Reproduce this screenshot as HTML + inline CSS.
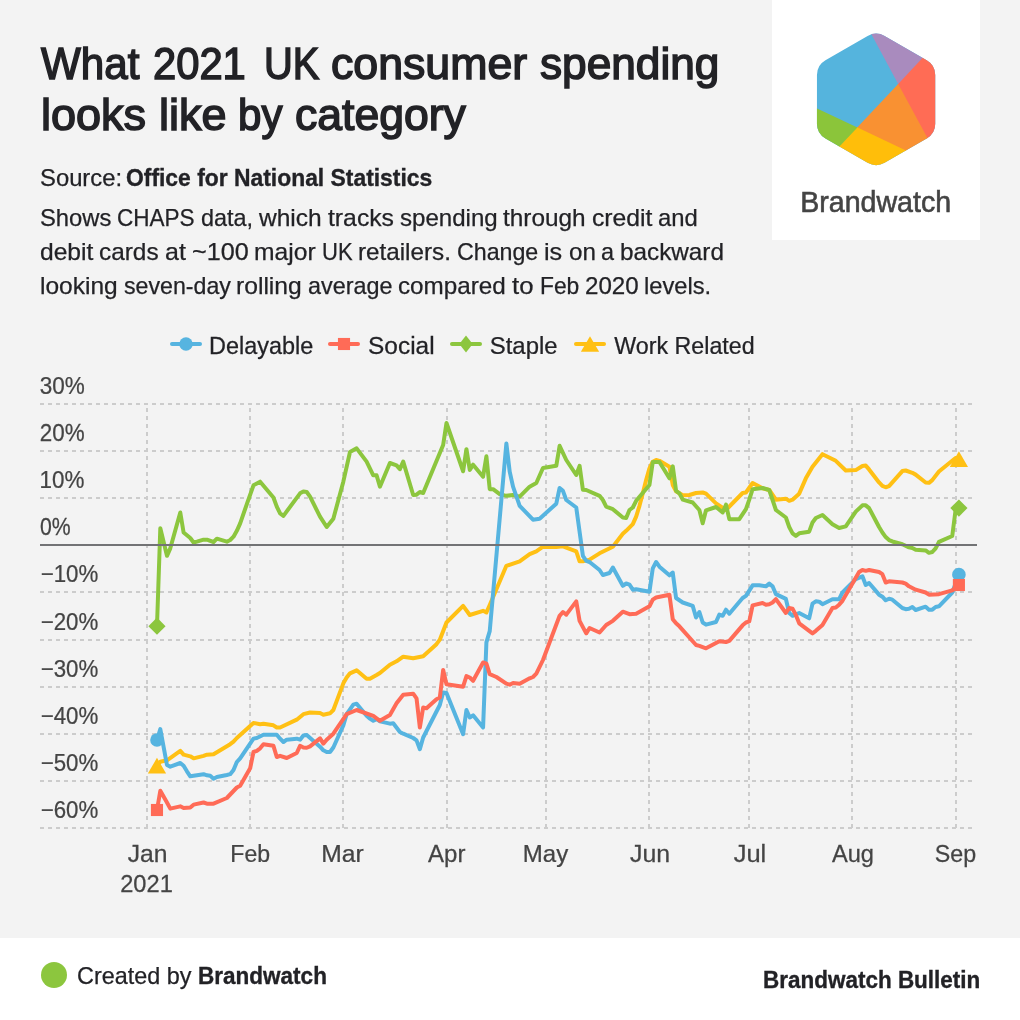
<!DOCTYPE html>
<html lang="en"><head><meta charset="utf-8"><title>What 2021 UK consumer spending looks like by category</title>
<style>
*{box-sizing:border-box;margin:0;padding:0}
html,body{width:1020px;height:1020px;overflow:hidden;background:#f3f3f3}
body{position:relative;font-family:"Liberation Sans",sans-serif;color:#222226;-webkit-font-smoothing:antialiased}
.abs{position:absolute;white-space:pre;line-height:1}
header h1{font-weight:400;font-size:44px;-webkit-text-stroke:1.5px #222226}
header h1 span,header p span{position:absolute;left:41px;white-space:pre;line-height:1;display:block}
header p{font-size:24px;font-weight:400;-webkit-text-stroke:0.25px #222226}
footer{-webkit-text-stroke:0.25px #222226}
b,#f2{font-weight:700;-webkit-text-stroke:0.35px #222226}
.logo{position:absolute;left:772px;top:0;width:208px;height:240px;background:#fff}
.legend span{font-size:24px;color:#222226}
.chart{position:absolute;left:0;top:0;width:1020px;height:940px;overflow:visible}
.chart text{font-family:"Liberation Sans",sans-serif;font-size:24px;fill:#444444;stroke:#444444;stroke-width:0.25px}
footer{position:absolute;left:0;top:938px;width:1020px;height:82px;background:#fff}
footer .dot{position:absolute;left:41px;top:24px;width:26px;height:26px;border-radius:50%;background:#8cc63e}
</style></head><body>
<header>
<h1><span id="t1w1" style="left:41.48px;top:42.35px;letter-spacing:0.000px;transform:scaleX(0.9581);transform-origin:0 50%">What</span> <span id="t1w2" style="left:152.88px;top:42.35px;letter-spacing:0.000px;transform:scaleX(0.9478);transform-origin:0 50%">2021</span> <span id="t1w3" style="left:263.75px;top:42.35px;letter-spacing:0.000px;transform:scaleX(0.9070);transform-origin:0 50%">UK</span> <span id="t1w4" style="left:330.55px;top:42.35px;letter-spacing:0.000px;transform:scaleX(1.0152);transform-origin:0 50%">consumer</span> <span id="t1w5" style="left:539.80px;top:42.35px;letter-spacing:0.000px;transform:scaleX(1.0045);transform-origin:0 50%">spending</span> <span id="t2w1" style="left:41.00px;top:92.55px;letter-spacing:0.000px;transform:scaleX(1.0232);transform-origin:0 50%">looks</span> <span id="t2w2" style="left:159.34px;top:92.55px;letter-spacing:0.000px;transform:scaleX(1.0236);transform-origin:0 50%">like</span> <span id="t2w3" style="left:237.79px;top:92.55px;letter-spacing:0.000px;transform:scaleX(0.9560);transform-origin:0 50%">by</span> <span id="t2w4" style="left:294.84px;top:92.55px;letter-spacing:0.000px;transform:scaleX(1.0126);transform-origin:0 50%">category</span></h1>
<p><span id="s1" style="margin-left:-1.32px;top:165.88px"><span id="s1a" style="position:static;display:inline-block;transform:scaleX(0.9922);transform-origin:0 50%">Source: </span><b id="s1b" style="display:inline-block;margin-left:-2.62px;transform:scaleX(0.9528);transform-origin:0 50%">Office for National Statistics</b></span>
<span id="d1" style="left:0;top:205.68px;width:760px;height:24px"><span style="left:40.00px;top:0;transform:scaleX(0.9914);transform-origin:0 50%">Shows</span> <span style="left:117.36px;top:0;transform:scaleX(0.9388);transform-origin:0 50%">CHAPS</span> <span style="left:200.91px;top:0;transform:scaleX(0.9758);transform-origin:0 50%">data,</span> <span style="left:258.94px;top:0;transform:scaleX(1.0226);transform-origin:0 50%">which</span> <span style="left:327.62px;top:0;transform:scaleX(1.0310);transform-origin:0 50%">tracks</span> <span style="left:399.54px;top:0;transform:scaleX(1.0027);transform-origin:0 50%">spending</span> <span style="left:503.16px;top:0;transform:scaleX(1.0150);transform-origin:0 50%">through</span> <span style="left:591.72px;top:0;transform:scaleX(1.0307);transform-origin:0 50%">credit</span> <span style="left:658.14px;top:0;transform:scaleX(0.9928);transform-origin:0 50%">and</span></span>
<span id="d2" style="left:0;top:239.68px;width:760px;height:24px"><span style="left:40.00px;top:0;transform:scaleX(1.0250);transform-origin:0 50%">debit</span> <span style="left:99.29px;top:0;transform:scaleX(1.0158);transform-origin:0 50%">cards</span> <span style="left:164.84px;top:0;transform:scaleX(1.0433);transform-origin:0 50%">at</span> <span style="left:191.66px;top:0;transform:scaleX(1.0492);transform-origin:0 50%">~100</span> <span style="left:254.33px;top:0;transform:scaleX(1.0263);transform-origin:0 50%">major</span> <span style="left:321.86px;top:0;transform:scaleX(0.9175);transform-origin:0 50%">UK</span> <span style="left:358.39px;top:0;transform:scaleX(1.0090);transform-origin:0 50%">retailers.</span> <span style="left:457.19px;top:0;transform:scaleX(0.9666);transform-origin:0 50%">Change</span> <span style="left:544.40px;top:0;transform:scaleX(1.0488);transform-origin:0 50%">is</span> <span style="left:568.52px;top:0;transform:scaleX(1.0079);transform-origin:0 50%">on</span> <span style="left:601.38px;top:0;transform:scaleX(0.9767);transform-origin:0 50%">a</span> <span style="left:620.36px;top:0;transform:scaleX(1.0119);transform-origin:0 50%">backward</span></span>
<span id="d3" style="left:0;top:273.68px;width:760px;height:24px"><span style="left:40.00px;top:0;transform:scaleX(1.0207);transform-origin:0 50%">looking</span> <span style="left:123.56px;top:0;transform:scaleX(0.9652);transform-origin:0 50%">seven-day</span> <span style="left:236.36px;top:0;transform:scaleX(1.0271);transform-origin:0 50%">rolling</span> <span style="left:308.05px;top:0;transform:scaleX(0.9739);transform-origin:0 50%">average</span> <span style="left:398.44px;top:0;transform:scaleX(1.0101);transform-origin:0 50%">compared</span> <span style="left:512.17px;top:0;transform:scaleX(1.0719);transform-origin:0 50%">to</span> <span style="left:539.55px;top:0;transform:scaleX(0.9505);transform-origin:0 50%">Feb</span> <span style="left:584.78px;top:0;transform:scaleX(1.0063);transform-origin:0 50%">2020</span> <span style="left:644.43px;top:0;transform:scaleX(0.9873);transform-origin:0 50%">levels.</span></span></p>
</header>
<div class="logo">
<svg width="208" height="240" viewBox="772 0 208 240">
<defs><clipPath id="hex"><path d="M867.60,36.01 A17.0,17.0 0 0 1 884.60,36.01 L926.75,60.34 A17.0,17.0 0 0 1 935.25,75.06 L935.25,123.74 A17.0,17.0 0 0 1 926.75,138.46 L884.60,162.79 A17.0,17.0 0 0 1 867.60,162.79 L825.45,138.46 A17.0,17.0 0 0 1 816.95,123.74 L816.95,75.06 A17.0,17.0 0 0 1 825.45,60.34 Z"/></clipPath></defs>
<g clip-path="url(#hex)">
<rect x="800" y="20" width="150" height="160" fill="#55b4dd"/>
<polygon points="857.4,8.3 898.7,84.9 942.7,37.6 960.0,10.0" fill="#a98bbe"/>
<polygon points="942.3,36.8 897.5,84.7 940.8,164.5 970.0,160.0 970.0,40.0" fill="#ff6c55"/>
<polygon points="898.2,84.0 941.5,163.8 940.0,175.0 931.5,163.7 856.7,128.1" fill="#f99132"/>
<polygon points="856.5,127.0 932.2,163.0 900.0,190.0 840.0,190.0 818.2,167.6" fill="#ffbe0a"/>
<polygon points="857.4,127.4 819.1,168.0 800.0,170.0 790.0,100.0 790.1,95.7" fill="#8bc53a"/>
</g>
<text id="wm" transform="translate(800.2,212.1) scale(0.953,1)" style="font-family:'Liberation Sans',sans-serif;font-size:30px;fill:#444;stroke:#444;stroke-width:0.6px">Brandwatch</text>
</svg>
</div>

<svg class="chart" width="1020" height="940" viewBox="0 0 1020 940">
<g class="legend">
<path d="M172,344 h28" stroke="#56b4e0" stroke-width="4" stroke-linecap="round" fill="none"/>
<circle cx="186.00" cy="344.00" r="6.70" fill="#56b4e0"/>
<text id="lg_blue" transform="translate(208.98,354.4) scale(0.9771,1)" style="fill:#222226;stroke:#222226">Delayable</text>
<path d="M330,344 h28" stroke="#ff6b57" stroke-width="4" stroke-linecap="round" fill="none"/>
<rect x="337.95" y="337.95" width="12.10" height="12.10" fill="#ff6b57"/>
<text id="lg_red" transform="translate(368.07,354.4) scale(1.0180,1)" style="fill:#222226;stroke:#222226">Social</text>
<path d="M452,344 h28" stroke="#8cc63e" stroke-width="4" stroke-linecap="round" fill="none"/>
<path d="M459.30,344.00 L466.00,335.40 L472.70,344.00 L466.00,352.60Z" fill="#8cc63e"/>
<text id="lg_green" transform="translate(489.81,354.4) scale(0.9954,1)" style="fill:#222226;stroke:#222226">Staple</text>
<path d="M576,344 h28" stroke="#ffc014" stroke-width="4" stroke-linecap="round" fill="none"/>
<path d="M590.00,336.15 L599.15,351.85 L580.85,351.85Z" fill="#ffc014"/>
<text id="lg_yellow" transform="translate(614.34,354.4) scale(0.9687,1)" style="fill:#222226;stroke:#222226">Work Related</text>
</g>
<g fill="none" stroke="#cccccc" stroke-width="2" stroke-dasharray="4 4">
<path d="M40,404 H976"/>
<path d="M40,451 H976"/>
<path d="M40,498 H976"/>
<path d="M40,592 H976"/>
<path d="M40,640 H976"/>
<path d="M40,687 H976"/>
<path d="M40,734 H976"/>
<path d="M40,781 H976"/>
<path d="M40,828 H976"/>
<path d="M147,828 V404"/>
<path d="M250,828 V404"/>
<path d="M343,828 V404"/>
<path d="M447,828 V404"/>
<path d="M546,828 V404"/>
<path d="M649,828 V404"/>
<path d="M749,828 V404"/>
<path d="M852,828 V404"/>
<path d="M956,828 V404"/>
</g>
<g>
<text id="yl0" transform="translate(39.66,394) scale(0.9376,1)">30%</text>
<text id="yl1" transform="translate(39.82,441) scale(0.9330,1)">20%</text>
<text id="yl2" transform="translate(39.60,488) scale(0.9339,1)">10%</text>
<text id="yl3" transform="translate(39.99,535) scale(0.8843,1)">0%</text>
<text id="yl4" transform="translate(40.65,582) scale(0.9283,1)">−10%</text>
<text id="yl5" transform="translate(40.65,630) scale(0.9283,1)">−20%</text>
<text id="yl6" transform="translate(40.65,677) scale(0.9283,1)">−30%</text>
<text id="yl7" transform="translate(40.65,724) scale(0.9283,1)">−40%</text>
<text id="yl8" transform="translate(40.65,771) scale(0.9283,1)">−50%</text>
<text id="yl9" transform="translate(40.65,818) scale(0.9283,1)">−60%</text>
<text id="xl0" transform="translate(127.68,862.3) scale(1.0282,1)">Jan</text>
<text id="xl1" transform="translate(230.33,862.3) scale(0.9612,1)">Feb</text>
<text id="xl2" transform="translate(321.28,862.3) scale(1.0288,1)">Mar</text>
<text id="xl3" transform="translate(428.06,862.3) scale(1.0007,1)">Apr</text>
<text id="xl4" transform="translate(522.77,862.3) scale(1.0015,1)">May</text>
<text id="xl5" transform="translate(630.11,862.3) scale(1.0362,1)">Jun</text>
<text id="xl6" transform="translate(733.66,862.3) scale(1.0639,1)">Jul</text>
<text id="xl7" transform="translate(831.93,862.3) scale(0.9850,1)">Aug</text>
<text id="xl8" transform="translate(934.70,862.3) scale(0.9692,1)">Sep</text>
<text id="xl_year" transform="translate(120.21,891.9) scale(0.9852,1)">2021</text>
</g>
<path d="M156.98,765.7 L160.31,761.67 L166.97,760.33 L180.28,750.83 L183.6,754.67 L190.26,756.33 L193.59,758.33 L203.57,755.83 L206.9,754.67 L213.55,754.17 L230.19,744.17 L233.51,741.67 L236.84,738 L240.17,735 L253.48,723 L260.13,724.17 L263.46,723.67 L273.44,725.33 L276.77,727.5 L280.1,727.5 L296.74,719.67 L303.39,714.17 L310.05,712.5 L320.03,713 L323.36,714.67 L330.01,713.33 L333.34,710 L343.32,683.33 L346.65,677.5 L349.98,673.33 L356.63,670.33 L366.62,678.67 L369.94,678.67 L376.6,675 L379.93,673 L389.91,664.67 L396.56,661.33 L403.22,656.67 L413.2,658.33 L423.18,656.33 L436.49,644.17 L439.82,639.67 L446.48,622.5 L463.11,605.83 L469.77,615 L483.08,610.83 L486.41,612.5 L489.73,605 L506.37,565.83 L519.68,561.33 L529.66,554.17 L536.32,551.33 L542.97,546.67 L556.28,547 L562.94,546.33 L576.25,551.33 L579.58,561.33 L582.9,561.33 L589.56,559.67 L599.54,553.33 L612.85,546.67 L622.83,533.75 L626.16,530.83 L632.82,524.17 L636.14,516.67 L639.47,505.83 L642.8,493.33 L646.12,480 L649.45,468.33 L652.78,461.67 L656.11,460 L659.44,460.83 L669.42,466.67 L672.75,485 L676.07,491.33 L682.73,495.33 L689.38,495 L696.04,493 L702.69,492.5 L706.02,493.67 L716,503.33 L725.99,510 L742.62,493 L745.95,492.5 L752.61,483 L762.59,488.33 L769.24,490 L775.9,499.67 L785.88,498.67 L789.21,500.83 L792.53,499.67 L799.19,493.67 L805.85,478.33 L812.5,466.67 L822.48,454.17 L835.79,460.83 L845.77,470.51 L855.76,470.1 L862.41,465.98 L865.74,465.57 L869.07,469.41 L879.05,482.45 L882.38,485.88 L885.71,487.25 L889.03,486.15 L902.34,471.06 L905.67,470.51 L912.33,472.84 L915.65,474.63 L925.63,482.45 L928.96,482.86 L932.29,480.12 L938.95,471.47 L955.58,457.94 L958.91,459.1" fill="none" stroke="#ffc014" stroke-width="4" stroke-linejoin="round" stroke-linecap="round"/>
<path d="M156.98,757.85 L166.13,773.55 L147.83,773.55Z" fill="#ffc014"/>
<path d="M958.91,451.25 L968.06,466.95 L949.76,466.95Z" fill="#ffc014"/>
<path d="M156.98,626.2 L160.31,528.33 L166.97,555.83 L170.29,548.33 L180.28,512.5 L183.6,532.5 L190.26,538 L193.59,542.5 L196.91,541.67 L203.57,539.67 L206.9,539.67 L213.55,542 L216.88,538.67 L226.86,541.67 L230.19,540 L233.51,536.67 L236.84,530.83 L240.17,523.33 L246.82,504.17 L253.48,485.33 L260.13,481.67 L273.44,497.5 L276.77,506.67 L280.1,513.33 L283.43,515.83 L300.06,493.33 L303.39,491.5 L306.72,492 L310.05,496.67 L320.03,516.67 L326.69,527 L333.34,518.67 L343.32,481.67 L349.98,452 L356.63,448.33 L366.62,461.67 L373.27,475.33 L376.6,475.33 L379.93,486.67 L389.91,463 L396.56,465.33 L399.89,469.17 L403.22,461.67 L413.2,495 L416.53,494.67 L419.86,492 L423.18,493 L443.15,445 L446.48,423 L463.11,471.25 L466.44,449.17 L469.77,470 L473.1,464.67 L483.08,476.67 L486.41,456.33 L489.73,489.17 L493.06,489.17 L499.72,494.17 L506.37,495.83 L513.03,495 L519.68,496.67 L529.66,486.67 L536.32,483 L542.97,468 L556.28,465.83 L559.61,445.83 L566.27,460 L576.25,475 L579.58,465.83 L582.9,489.67 L586.23,490 L599.54,495.83 L602.87,500 L606.19,506.67 L612.85,509.17 L622.83,517.5 L626.16,517.92 L629.49,510 L632.82,507.5 L636.14,500.83 L649.45,485 L652.78,462 L659.44,462 L669.42,478.33 L672.75,466.33 L676.07,490.83 L679.4,493.33 L682.73,499.67 L692.71,502.5 L699.37,510 L702.69,523.33 L706.02,510.33 L716,507 L722.66,512.5 L725.99,504.67 L729.31,519.17 L739.3,519.17 L745.95,509.17 L749.28,499.67 L752.61,489.17 L762.59,488 L769.24,490 L775.9,510 L785.88,517.5 L789.21,527 L792.53,533.33 L795.86,535.83 L799.19,533.33 L809.17,531.67 L812.5,522.5 L815.83,518 L822.48,515 L832.47,524.17 L839.12,528 L845.77,526.37 L855.76,511.67 L862.41,505.37 L865.74,505.37 L869.07,508.11 L879.05,527.05 L882.38,532.54 L885.71,537.07 L889.03,540.09 L892.36,541.47 L902.34,544.21 L909,547.37 L912.33,547.92 L915.65,549.7 L925.63,550.39 L928.96,552.86 L932.29,552.03 L935.62,548.33 L938.95,541.88 L952.25,535.98 L955.58,510 L958.91,508.1" fill="none" stroke="#8cc63e" stroke-width="4" stroke-linejoin="round" stroke-linecap="round"/>
<path d="M148.38,626.20 L156.98,617.60 L165.58,626.20 L156.98,634.80Z" fill="#8cc63e"/>
<path d="M950.31,508.10 L958.91,499.50 L967.51,508.10 L958.91,516.70Z" fill="#8cc63e"/>
<path d="M156.98,740 L160.31,729.17 L166.97,765 L170.29,766.67 L180.28,763 L183.6,765.83 L186.93,771.33 L190.26,776.33 L203.57,774.17 L206.9,775.33 L210.22,775.83 L213.55,778.67 L216.88,777 L226.86,775 L230.19,774.17 L233.51,770 L236.84,762 L240.17,758.33 L253.48,738.67 L256.81,738 L263.46,734.67 L276.77,734.67 L280.1,738.67 L283.43,742 L286.75,739.67 L296.74,738.67 L300.06,739.67 L303.39,735.58 L306.72,735 L320.03,746.67 L323.36,750.33 L326.69,752 L330.01,752 L333.34,747.5 L343.32,725.33 L346.65,714.17 L353.31,704.67 L356.63,703.67 L366.62,715.83 L369.94,718.67 L373.27,720.83 L376.6,719.17 L379.93,721.33 L389.91,723.67 L393.24,723.33 L399.89,732 L403.22,733.67 L413.2,738 L416.53,740.33 L419.86,749.17 L423.18,737.5 L439.82,705 L443.15,692.5 L446.48,693 L463.11,734.17 L466.44,710 L469.77,717.5 L473.1,715.33 L483.08,727.5 L486.41,642.35 L489.73,631.08 L506.37,443.43 L509.7,471.67 L513.03,486.67 L519.68,505.83 L532.99,519.67 L539.64,518.67 L556.28,503.67 L559.61,488 L562.94,490.83 L566.27,500 L576.25,507.5 L582.9,555.83 L586.23,560.83 L589.56,562 L599.54,570 L602.87,575 L609.52,573 L612.85,567.5 L622.83,585.83 L626.16,583.5 L629.49,584.67 L632.82,589.67 L636.14,589.17 L649.45,591.67 L652.78,568.33 L656.11,562 L659.44,566.67 L669.42,575.33 L672.75,572.5 L676.07,598 L682.73,602.5 L692.71,605.83 L696.04,617.5 L699.37,612 L702.69,622.5 L706.02,624.67 L716,622 L719.33,614.67 L722.66,615.83 L725.99,609.67 L729.31,613.67 L742.62,598 L745.95,595.83 L752.61,585.33 L759.26,585.33 L765.92,586.33 L769.24,583.67 L772.57,586.33 L775.9,594.17 L785.88,598.92 L789.21,613 L792.53,615.83 L799.19,613 L809.17,618.33 L812.5,603.67 L815.83,601.33 L819.15,601.67 L822.48,604.17 L832.47,599.17 L839.12,599.17 L842.45,592.5 L855.76,579.17 L862.41,576.33 L865.74,585 L869.07,583 L879.05,594.67 L882.38,596.67 L885.71,600.33 L889.03,598.67 L892.36,599.67 L902.34,608 L905.67,609.17 L909,608.67 L912.33,607 L915.65,610 L925.63,606.67 L928.96,609.67 L932.29,609.67 L935.62,607 L938.95,606.33 L952.25,592.5 L958.91,574.67" fill="none" stroke="#56b4e0" stroke-width="4" stroke-linejoin="round" stroke-linecap="round"/>
<circle cx="156.98" cy="740.00" r="6.80" fill="#56b4e0"/>
<circle cx="958.91" cy="574.67" r="6.80" fill="#56b4e0"/>
<path d="M156.98,810 L160.31,790.83 L166.97,802.5 L170.29,808.67 L180.28,806.33 L183.6,808 L190.26,807.5 L193.59,804.67 L203.57,802.5 L206.9,803.67 L213.55,803.67 L226.86,798 L236.84,787.5 L240.17,785.83 L250.15,768.33 L253.48,752 L256.81,750.83 L260.13,748.33 L263.46,744.17 L273.44,745.83 L276.77,757 L280.1,755.83 L286.75,758 L296.74,753 L300.06,745.83 L303.39,747.5 L306.72,747.75 L310.05,746.33 L320.03,738.33 L323.36,743.67 L326.69,739.67 L333.34,733.67 L346.65,714.17 L356.63,710 L373.27,715.83 L379.93,720.83 L389.91,715 L396.56,703.33 L403.22,694.67 L413.2,693.67 L416.53,698.33 L419.86,727.5 L423.18,707.5 L426.51,708.33 L436.49,699.17 L439.82,697.5 L443.15,670 L446.48,684.17 L463.11,686.67 L466.44,676.08 L469.77,677.5 L473.1,680.83 L483.08,662.5 L486.41,663.67 L489.73,674.17 L496.39,677 L506.37,683.67 L509.7,684.67 L513.03,683 L519.68,683.67 L529.66,678.33 L532.99,677 L536.32,673.67 L542.97,660 L559.61,615.83 L562.94,612 L566.27,614.67 L576.25,601.33 L579.58,620.83 L586.23,633.33 L589.56,628 L599.54,632.5 L606.19,625 L612.85,620.83 L622.83,611.67 L629.49,614.17 L636.14,613.67 L649.45,606.33 L652.78,599.67 L656.11,597.5 L669.42,594.67 L672.75,619.17 L676.07,623.33 L679.4,626.33 L696.04,645 L699.37,645.83 L706.02,648.33 L719.33,641.33 L725.99,642 L729.31,640.83 L742.62,625.33 L745.95,622.5 L749.28,621.33 L752.61,605.33 L762.59,603 L765.92,604.67 L769.24,604.17 L772.57,602.5 L775.9,599.17 L785.88,613 L789.21,608 L792.53,608.67 L795.86,615 L799.19,623.33 L812.5,633.33 L815.83,630.83 L822.48,625 L832.47,608 L835.79,607.5 L839.12,604.67 L842.45,600.83 L859.09,572 L862.41,570 L865.74,570.83 L869.07,570 L879.05,572 L882.38,574.17 L885.71,582.5 L889.03,581.33 L902.34,582.5 L905.67,583.67 L909,586.33 L915.65,589.67 L925.63,592.5 L928.96,594.67 L938.95,594.17 L952.25,590.33 L958.91,585" fill="none" stroke="#ff6b57" stroke-width="4" stroke-linejoin="round" stroke-linecap="round"/>
<rect x="150.93" y="803.95" width="12.10" height="12.10" fill="#ff6b57"/>
<rect x="952.86" y="578.95" width="12.10" height="12.10" fill="#ff6b57"/>
<path d="M40,545 H977" stroke="#727375" stroke-width="2" fill="none"/>
</svg>

<footer>
<div class="dot"></div>
<div class="abs" id="f1" style="margin-left:-1.56px;left:79px;top:25.98px;font-size:24px"><span id="f1a" style="display:inline-block;transform:scaleX(0.9741);transform-origin:0 50%">Created by </span><b id="f1b" style="display:inline-block;margin-left:-3.45px;transform:scaleX(0.9385);transform-origin:0 50%">Brandwatch</b></div>
<div class="abs" id="f2" style="margin-left:-0.72px;left:764px;top:29.68px;font-size:24px;font-weight:700;transform:scaleX(0.9365);transform-origin:0 50%">Brandwatch Bulletin</div>
</footer>
</body></html>
